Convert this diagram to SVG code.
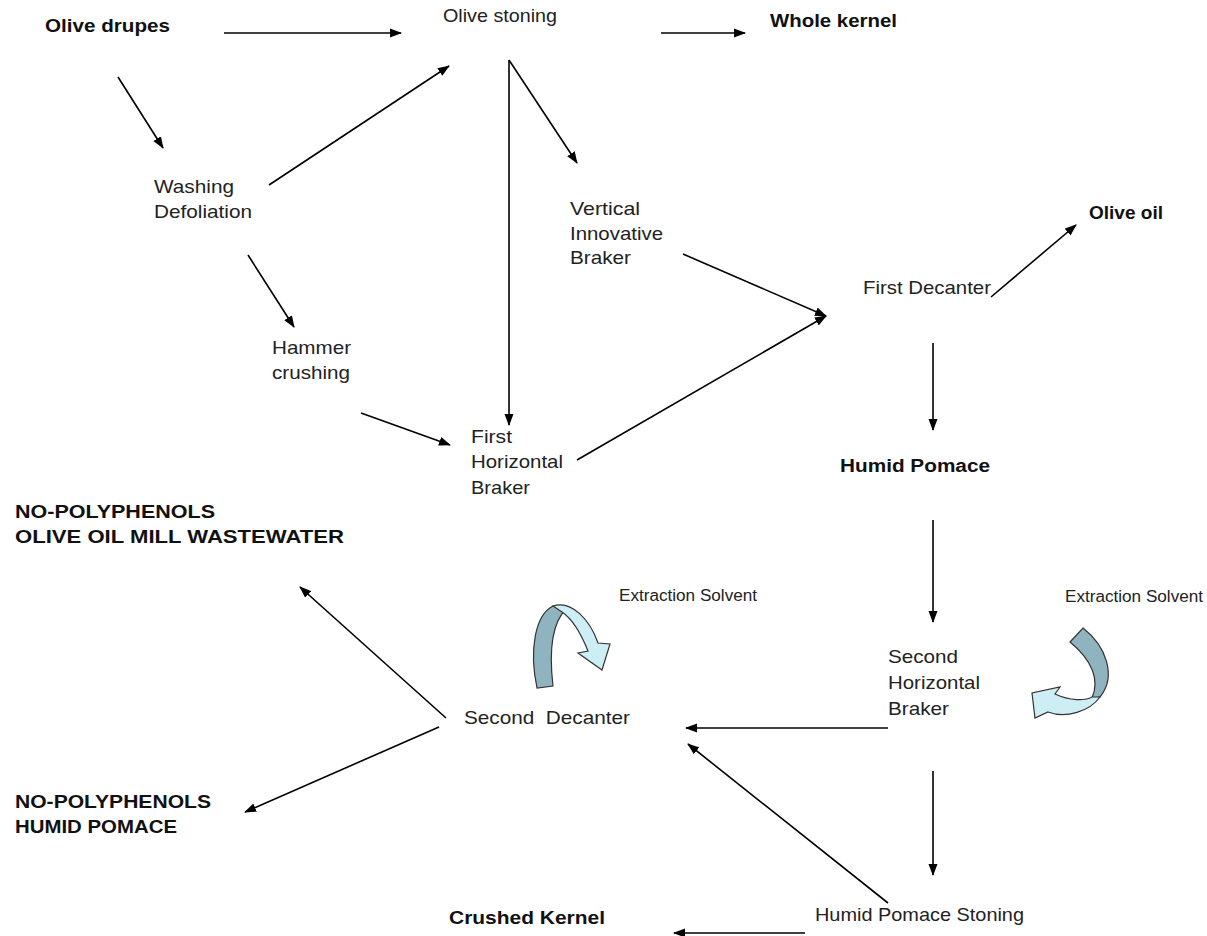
<svg xmlns="http://www.w3.org/2000/svg" width="1207" height="936" viewBox="0 0 1207 936">
<defs>
<marker id="ah" viewBox="0 0 12 10" refX="11" refY="5" markerWidth="12" markerHeight="10" markerUnits="userSpaceOnUse" orient="auto">
<path d="M0,0.5 L12,5 L0,9.5 Z" fill="#000"/>
</marker>
<style>
text{font-family:"Liberation Sans",Arial,sans-serif;fill:#222;}
.r{font-size:19px;}
.b{font-size:18px;font-weight:bold;fill:#111;}
.s{font-size:16px;}
.c line{stroke:#000;stroke-width:1.6;marker-end:url(#ah);}
.dk{fill:#8fb3bf;stroke:#333;stroke-width:1.2;}
.lt{fill:#cdeef5;stroke:#333;stroke-width:1.2;}
</style>
</defs>
<rect width="1207" height="936" fill="#fff"/>
<g class="c" id="connectors">
<line x1="224" y1="33" x2="401" y2="33"/>
<line x1="661" y1="33" x2="745" y2="33"/>
<line x1="118" y1="77" x2="163" y2="148"/>
<line x1="269" y1="185" x2="449" y2="66"/>
<line x1="509" y1="60" x2="577" y2="163"/>
<line x1="509" y1="60" x2="509" y2="425"/>
<line x1="248" y1="255" x2="294" y2="327"/>
<line x1="361" y1="413" x2="450" y2="445"/>
<line x1="683" y1="254" x2="826" y2="316"/>
<line x1="577" y1="460" x2="826" y2="316"/>
<line x1="991" y1="297" x2="1076" y2="225"/>
<line x1="933" y1="343" x2="933" y2="430"/>
<line x1="933" y1="520" x2="933" y2="622"/>
<line x1="888" y1="728" x2="686" y2="728"/>
<line x1="933" y1="771" x2="933" y2="875"/>
<line x1="888" y1="903" x2="688" y2="744"/>
<line x1="805" y1="933" x2="674" y2="933"/>
<line x1="446" y1="718" x2="300" y2="587"/>
<line x1="439" y1="727" x2="245" y2="812"/>
</g>
<g id="n-olive-drupes"><text class="b" x="45" y="32" textLength="125" lengthAdjust="spacingAndGlyphs">Olive drupes</text></g>
<g id="n-olive-stoning"><text class="r" x="443" y="22" textLength="114" lengthAdjust="spacingAndGlyphs">Olive stoning</text></g>
<g id="n-whole-kernel"><text class="b" x="770" y="27" textLength="127" lengthAdjust="spacingAndGlyphs">Whole kernel</text></g>
<g id="n-washing"><text class="r" x="154" y="193" textLength="80" lengthAdjust="spacingAndGlyphs">Washing</text><text class="r" x="154" y="218" textLength="98" lengthAdjust="spacingAndGlyphs">Defoliation</text></g>
<g id="n-vertical"><text class="r" x="570" y="215" textLength="70" lengthAdjust="spacingAndGlyphs">Vertical</text><text class="r" x="570" y="240" textLength="93" lengthAdjust="spacingAndGlyphs">Innovative</text><text class="r" x="570" y="264" textLength="61" lengthAdjust="spacingAndGlyphs">Braker</text></g>
<g id="n-olive-oil"><text class="b" x="1089" y="219" textLength="74" lengthAdjust="spacingAndGlyphs">Olive oil</text></g>
<g id="n-first-decanter"><text class="r" x="863" y="294" textLength="128" lengthAdjust="spacingAndGlyphs">First Decanter</text></g>
<g id="n-hammer"><text class="r" x="272" y="354" textLength="79" lengthAdjust="spacingAndGlyphs">Hammer</text><text class="r" x="272" y="379" textLength="78" lengthAdjust="spacingAndGlyphs">crushing</text></g>
<g id="n-first-horizontal"><text class="r" x="471" y="443" textLength="41" lengthAdjust="spacingAndGlyphs">First</text><text class="r" x="471" y="468" textLength="92" lengthAdjust="spacingAndGlyphs">Horizontal</text><text class="r" x="471" y="494" textLength="59" lengthAdjust="spacingAndGlyphs">Braker</text></g>
<g id="n-humid-pomace"><text class="b" x="840" y="472" textLength="150" lengthAdjust="spacingAndGlyphs">Humid Pomace</text></g>
<g id="n-no-poly-ww"><text class="b" x="15" y="518" textLength="200" lengthAdjust="spacingAndGlyphs">NO-POLYPHENOLS</text><text class="b" x="15" y="543" textLength="329" lengthAdjust="spacingAndGlyphs">OLIVE OIL MILL WASTEWATER</text></g>
<g id="n-solvent-1">
<text class="s" x="619" y="601" textLength="138" lengthAdjust="spacingAndGlyphs">Extraction Solvent</text>
<path class="dk" d="M537,688 C529,650 535,615 553,606 L567,608 C552,622 549,652 553,686 Z"/>
<path class="lt" d="M553,606 C572,600 590,620 598,643 L610,644 L602,670 L578,653 L588,651 C582,636 574,620 562,612 Z"/>
</g>
<g id="n-solvent-2">
<text class="s" x="1065" y="602" textLength="138" lengthAdjust="spacingAndGlyphs">Extraction Solvent</text>
<path class="dk" d="M1070,642 L1083,628 C1106,646 1117,676 1100,697 L1092,698 C1100,680 1092,660 1070,642 Z"/>
<path class="lt" d="M1100,697 C1090,711 1066,719 1048,712 L1035,718 L1032,693 L1060,687 L1055,694 C1070,701 1085,701 1092,697 Z"/>
</g>
<g id="n-second-horizontal"><text class="r" x="888" y="663" textLength="70" lengthAdjust="spacingAndGlyphs">Second</text><text class="r" x="888" y="689" textLength="92" lengthAdjust="spacingAndGlyphs">Horizontal</text><text class="r" x="888" y="715" textLength="61" lengthAdjust="spacingAndGlyphs">Braker</text></g>
<g id="n-second-decanter"><text class="r" x="464" y="724" xml:space="preserve" textLength="166" lengthAdjust="spacingAndGlyphs">Second  Decanter</text></g>
<g id="n-no-poly-hp"><text class="b" x="15" y="808" textLength="196" lengthAdjust="spacingAndGlyphs">NO-POLYPHENOLS</text><text class="b" x="15" y="833" textLength="162" lengthAdjust="spacingAndGlyphs">HUMID POMACE</text></g>
<g id="n-crushed-kernel"><text class="b" x="449" y="924" textLength="156" lengthAdjust="spacingAndGlyphs">Crushed Kernel</text></g>
<g id="n-hp-stoning"><text class="r" x="815" y="921" textLength="209" lengthAdjust="spacingAndGlyphs">Humid Pomace Stoning</text></g>
</svg>
